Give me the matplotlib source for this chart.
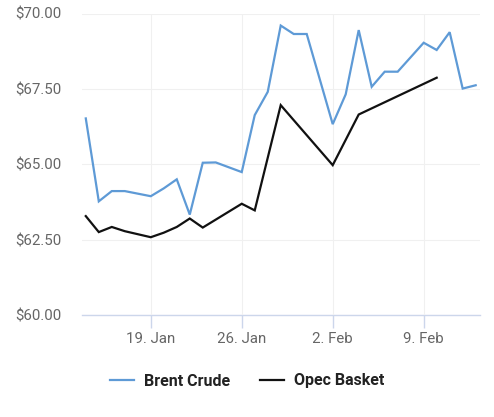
import matplotlib
matplotlib.use("Agg")
import matplotlib.pyplot as plt
import pandas as pd

brent_dates = ["2019-01-14", "2019-01-15", "2019-01-16", "2019-01-17", "2019-01-19",
               "2019-01-20", "2019-01-21", "2019-01-22", "2019-01-23", "2019-01-24",
               "2019-01-26", "2019-01-27", "2019-01-28", "2019-01-29", "2019-01-30",
               "2019-01-31", "2019-02-02", "2019-02-03", "2019-02-04", "2019-02-05",
               "2019-02-06", "2019-02-07", "2019-02-09", "2019-02-10", "2019-02-11",
               "2019-02-12", "2019-02-13"]
brent_values = [66.52, 63.77, 64.11, 64.11, 63.94,
                64.20, 64.50, 63.33, 65.05, 65.06,
                64.74, 66.63, 67.40, 69.60, 69.32,
                69.32, 66.33, 67.32, 69.45, 67.57,
                68.07, 68.07, 69.03, 68.79, 69.38,
                67.51, 67.62]

opec_dates = ["2019-01-14", "2019-01-15", "2019-01-16", "2019-01-17", "2019-01-19",
              "2019-01-20", "2019-01-21", "2019-01-22", "2019-01-23", "2019-01-26",
              "2019-01-27", "2019-01-29", "2019-02-02", "2019-02-04", "2019-02-10"]
opec_values = [63.28, 62.75, 62.92, 62.78, 62.58,
               62.73, 62.92, 63.20, 62.90, 63.69,
               63.47, 66.96, 64.97, 66.65, 67.87]

y_ticks = [60.0, 62.5, 65.0, 67.5, 70.0]
x_ticks = ["2019-01-19", "2019-01-26", "2019-02-02", "2019-02-09"]
x_tick_labels = ["19. Jan", "26. Jan", "2. Feb", "9. Feb"]

plt.rcParams['font.family'] = ['Roboto', 'DejaVu Sans']

fig = plt.figure(figsize=(4.94, 4.17), dpi=100)
ax = fig.add_axes([82/494, 1 - 315/417, (480 - 82)/494, (315 - 13.5)/417])

bd = pd.to_datetime(brent_dates)
od = pd.to_datetime(opec_dates)
ax.plot(bd, brent_values, color='#5e9ad6', lw=1.6, label='Brent Crude', solid_joinstyle='miter')
ax.plot(od, opec_values, color='#111111', lw=1.6, label='Opec Basket', solid_joinstyle='miter')

ax.set_ylim(60, 70)
ax.set_xlim(pd.Timestamp("2019-01-13 17:00"), pd.Timestamp("2019-02-13 08:00"))
ax.set_yticks(y_ticks)
ax.set_yticklabels([f"${v:.2f}" for v in y_ticks])
ax.set_xticks(pd.to_datetime(x_ticks))
ax.set_xticklabels(x_tick_labels)

for s in ['top', 'right', 'left']:
    ax.spines[s].set_visible(False)
ax.spines['bottom'].set_color('#ccd6eb')
ax.spines['bottom'].set_linewidth(1)
ax.spines['bottom'].set_zorder(0)

ax.grid(True, color='#f0f0f0', lw=0.8)
ax.set_axisbelow(True)
ax.tick_params(axis='y', length=0, pad=15, labelsize=10.8, labelcolor='#666666')
ax.tick_params(axis='x', length=9, width=1, color='#ccd6eb', pad=3, labelsize=10.8, labelcolor='#666666')

leg = fig.legend(loc='center', bbox_to_anchor=(0.5, 1 - 381/417), ncol=2, frameon=False,
                 prop={'weight': 'bold', 'size': 11.5}, handlelength=1.5, handletextpad=0.6,
                 columnspacing=1.9)
for t in leg.get_texts():
    t.set_color('#222222')

fig.savefig('out.png', dpi=100)
